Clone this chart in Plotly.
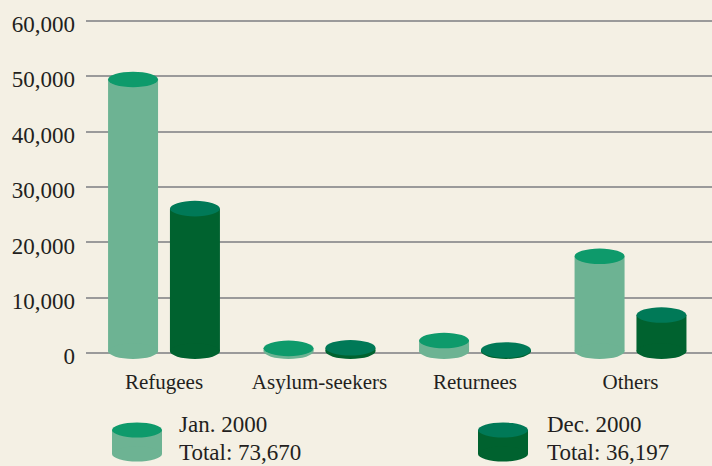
import plotly.graph_objects as go

# ---- data ----
categories = ["Refugees", "Asylum-seekers", "Returnees", "Others"]
jan_2000 = [49400, 900, 2300, 17500]
dec_2000 = [26100, 1000, 600, 6900]
series_names = ["Jan. 2000", "Dec. 2000"]
series_totals = ["Total: 73,670", "Total: 36,197"]
y_ticks = [0, 10000, 20000, 30000, 40000, 50000, 60000]
y_ticktext = ["0", "10,000", "20,000", "30,000", "40,000", "50,000", "60,000"]

# ---- style ----
BG = "#f4f0e4"
JAN_BODY, JAN_TOP = "#6db393", "#0e9a6b"
DEC_BODY, DEC_TOP = "#00622f", "#007957"
TEXT = "#231f20"
FONT = "Liberation Serif"

W, H = 712, 466
ML, MR, MT, MB = 86, 0, 4, 96
X_RANGE = [-0.5016, 3.524]
Y_RANGE = [-3000, 63000]
OFFSET = 0.199      # group offset (x units)
BAR_W = 0.3215      # bar width (x units)
ELL_H = 1400        # ellipse half-height (y units)
BASE_C = 400        # centre of the bottom ellipse (y units)

fig = go.Figure()
shapes = []
cat_pos = list(range(len(categories)))

for vals, off, body, top in [(jan_2000, -OFFSET, JAN_BODY, JAN_TOP),
                             (dec_2000, OFFSET, DEC_BODY, DEC_TOP)]:
    xs = [p + off for p in cat_pos]
    fig.add_trace(go.Bar(x=xs, y=[v - BASE_C for v in vals], base=BASE_C, width=BAR_W,
                         marker=dict(color=body, line=dict(width=0)),
                         hoverinfo="skip", showlegend=False))
    for x, v in zip(xs, vals):
        # bottom ellipse
        shapes.append(dict(type="circle", xref="x", yref="y",
                           x0=x - BAR_W / 2, x1=x + BAR_W / 2,
                           y0=BASE_C - ELL_H, y1=BASE_C + ELL_H,
                           fillcolor=body, line=dict(width=0)))
        # top ellipse
        shapes.append(dict(type="circle", xref="x", yref="y",
                           x0=x - BAR_W / 2, x1=x + BAR_W / 2,
                           y0=v - ELL_H, y1=v + ELL_H,
                           fillcolor=top, line=dict(width=0)))

# ---- custom legend (pixel helpers) ----
PW = W - ML - MR
PH = H - MT - MB


def px_x(px):
    return (px - ML) / PW


def px_y(py):
    return (H - MB - py) / PH


annotations = []
legend_items = [(112, 178, JAN_BODY, JAN_TOP, 0), (478, 546, DEC_BODY, DEC_TOP, 1)]
for cx0, tx, body, top, i in legend_items:
    cx1 = cx0 + 50
    top_c, bot_c, eh = 430, 454, 7.5
    shapes.append(dict(type="rect", xref="paper", yref="paper",
                       x0=px_x(cx0), x1=px_x(cx1), y0=px_y(bot_c), y1=px_y(top_c),
                       fillcolor=body, line=dict(width=0)))
    shapes.append(dict(type="circle", xref="paper", yref="paper",
                       x0=px_x(cx0), x1=px_x(cx1), y0=px_y(bot_c + eh), y1=px_y(bot_c - eh),
                       fillcolor=body, line=dict(width=0)))
    shapes.append(dict(type="circle", xref="paper", yref="paper",
                       x0=px_x(cx0), x1=px_x(cx1), y0=px_y(top_c + eh), y1=px_y(top_c - eh),
                       fillcolor=top, line=dict(width=0)))
    annotations.append(dict(text=series_names[i], xref="paper", yref="paper",
                            x=px_x(tx), y=px_y(424), xanchor="left", yanchor="middle",
                            showarrow=False, borderpad=0,
                            font=dict(family=FONT, size=23, color=TEXT)))
    annotations.append(dict(text=series_totals[i], xref="paper", yref="paper",
                            x=px_x(tx), y=px_y(452.5), xanchor="left", yanchor="middle",
                            showarrow=False, borderpad=0,
                            font=dict(family=FONT, size=23, color=TEXT)))

fig.update_layout(
    width=W, height=H,
    margin=dict(l=ML, r=MR, t=MT, b=MB, pad=0),
    paper_bgcolor=BG, plot_bgcolor=BG,
    shapes=shapes, annotations=annotations,
    font=dict(family=FONT, size=21, color=TEXT),
    xaxis=dict(range=X_RANGE, tickvals=cat_pos, ticktext=categories,
               showgrid=False, zeroline=False, showline=False, ticks="",
               ticklabelstandoff=-3, fixedrange=True),
    yaxis=dict(range=Y_RANGE, tickvals=y_ticks, ticktext=y_ticktext,
               tickfont=dict(family=FONT, size=23, color=TEXT),
               showgrid=True, gridcolor="#9a9a9a", gridwidth=1.5,
               zeroline=False, showline=False, ticks="", ticklabelstandoff=10,
               ticklabelshift=3, fixedrange=True),
)

fig.write_html("out.html", config={"displayModeBar": False},
               post_script="document.body.style.margin='0';document.body.style.background='" + BG + "';")
